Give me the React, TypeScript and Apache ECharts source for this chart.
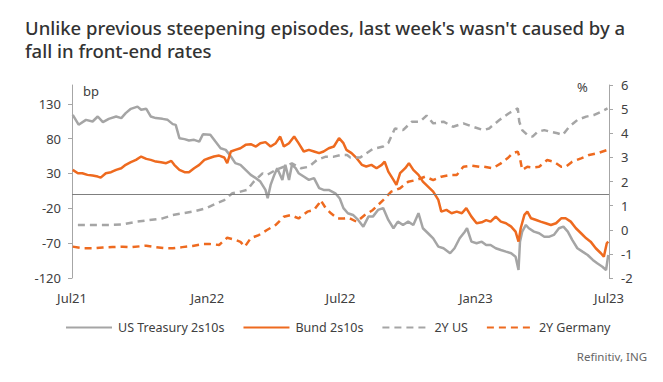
import React, { useEffect, useRef } from "react";
import * as echarts from "echarts";

const TITLE = "Unlike previous steepening episodes, last week's wasn't caused by a\nfall in front-end rates";
const SOURCE = "Refinitiv, ING";
const SERIES_NAMES = ["US Treasury 2s10s", "Bund 2s10s", "2Y US", "2Y Germany"];
const LEFT_TICKS = [-120, -70, -20, 30, 80, 130];
const X_TICKS = ["2021-07-01", "2022-01-01", "2022-07-01", "2023-01-01", "2023-07-01"];
const MONTHS = ["Jan", "Feb", "Mar", "Apr", "May", "Jun", "Jul", "Aug", "Sep", "Oct", "Nov", "Dec"];

// bp, left axis
const us2s10s: [string, number][] = [
  ["2021-07-02", 114], ["2021-07-10", 100], ["2021-07-20", 107], ["2021-07-29", 104.6],
  ["2021-08-05", 111.8], ["2021-08-12", 103.7], ["2021-08-20", 108.4], ["2021-08-30", 111.8],
  ["2021-09-06", 109.5], ["2021-09-12", 116.6], ["2021-09-19", 122.8], ["2021-09-28", 126],
  ["2021-10-03", 121.4], ["2021-10-10", 122.8], ["2021-10-16", 111.8], ["2021-10-23", 109.5],
  ["2021-11-01", 108.4], ["2021-11-08", 107], ["2021-11-15", 100.8], ["2021-11-19", 99.8],
  ["2021-11-24", 80.7], ["2021-12-01", 79.3], ["2021-12-07", 77.3], ["2021-12-14", 78.3],
  ["2021-12-21", 75.8], ["2021-12-26", 86.4], ["2022-01-05", 85.5], ["2022-01-12", 75.8],
  ["2022-01-19", 66.3], ["2022-01-26", 63.9], ["2022-02-02", 54.3], ["2022-02-08", 44.8],
  ["2022-02-15", 42.4], ["2022-02-22", 35.2], ["2022-03-01", 28], ["2022-03-08", 23.3],
  ["2022-03-14", 18.4], ["2022-03-21", 6.4], ["2022-03-24", -5.4], ["2022-03-28", 13.6],
  ["2022-04-02", 28], ["2022-04-06", 37.6], ["2022-04-13", 20.8], ["2022-04-17", 42.4],
  ["2022-04-22", 20.8], ["2022-04-26", 42.4], ["2022-05-01", 37.6], ["2022-05-05", 30.4],
  ["2022-05-12", 25.6], ["2022-05-19", 20.8], ["2022-05-26", 23.3], ["2022-06-02", 8.9],
  ["2022-06-08", 6.4], ["2022-06-15", 6.4], ["2022-06-24", 1.6], ["2022-06-30", -6],
  ["2022-07-05", -19.7], ["2022-07-11", -27], ["2022-07-18", -29.5], ["2022-07-25", -36.7],
  ["2022-08-01", -46.3], ["2022-08-08", -31.9], ["2022-08-14", -31.9], ["2022-08-21", -22.3],
  ["2022-08-28", -19.7], ["2022-09-04", -36.7], ["2022-09-11", -48.6], ["2022-09-17", -39.1],
  ["2022-09-24", -43.9], ["2022-10-01", -39.1], ["2022-10-08", -43.9], ["2022-10-15", -27],
  ["2022-10-21", -48.6], ["2022-10-28", -55.8], ["2022-11-04", -63], ["2022-11-11", -75],
  ["2022-11-18", -77.3], ["2022-11-27", -84.5], ["2022-12-03", -77.3], ["2022-12-10", -63],
  ["2022-12-17", -53.5], ["2022-12-20", -48.6], ["2022-12-26", -67.8], ["2023-01-02", -70.1],
  ["2023-01-09", -67.8], ["2023-01-15", -72.6], ["2023-01-21", -72.6], ["2023-01-28", -77.3],
  ["2023-02-04", -79.8], ["2023-02-11", -82.2], ["2023-02-18", -84.5], ["2023-02-24", -89.4],
  ["2023-02-28", -108.5], ["2023-03-02", -67.8], ["2023-03-05", -53.5], ["2023-03-10", -43.9],
  ["2023-03-14", -48.6], ["2023-03-21", -53.5], ["2023-03-28", -55.8], ["2023-04-04", -60.7],
  ["2023-04-11", -60.7], ["2023-04-17", -58.2], ["2023-04-24", -48.6], ["2023-04-30", -46.3],
  ["2023-05-06", -53.5], ["2023-05-12", -65.4], ["2023-05-19", -77.3], ["2023-05-26", -82.2],
  ["2023-06-02", -87], ["2023-06-09", -94.1], ["2023-06-15", -98.9], ["2023-06-22", -103.8],
  ["2023-06-27", -108.5], ["2023-06-30", -87],
];

// bp, left axis
const bund2s10s: [string, number][] = [
  ["2021-07-02", 35.2], ["2021-07-09", 30.4], ["2021-07-15", 30.4], ["2021-07-22", 28],
  ["2021-07-29", 27], ["2021-08-05", 25.6], ["2021-08-09", 24.1], ["2021-08-16", 30.4],
  ["2021-08-23", 31.8], ["2021-08-30", 35.2], ["2021-09-06", 37.6], ["2021-09-12", 42.4],
  ["2021-09-19", 46.2], ["2021-09-26", 49.5], ["2021-10-03", 54.3], ["2021-10-10", 51],
  ["2021-10-16", 49.5], ["2021-10-23", 47.1], ["2021-10-30", 46.2], ["2021-11-06", 44.8],
  ["2021-11-13", 48.1], ["2021-11-17", 42.4], ["2021-11-24", 35.2], ["2021-12-01", 31.8],
  ["2021-12-07", 31.8], ["2021-12-14", 37.6], ["2021-12-21", 42.4], ["2021-12-28", 49.5],
  ["2022-01-03", 51.9], ["2022-01-10", 54.3], ["2022-01-17", 55.7], ["2022-01-24", 52.9],
  ["2022-01-28", 44.8], ["2022-02-02", 61.6], ["2022-02-08", 63.9], ["2022-02-15", 66.3],
  ["2022-02-22", 71.1], ["2022-03-01", 72.1], ["2022-03-08", 68.7], ["2022-03-14", 73.5],
  ["2022-03-21", 75], ["2022-03-28", 68.7], ["2022-04-04", 73.5], ["2022-04-10", 83],
  ["2022-04-15", 68.7], ["2022-04-22", 73.5], ["2022-04-29", 83], ["2022-05-05", 73.5],
  ["2022-05-12", 61.6], ["2022-05-19", 63.9], ["2022-05-26", 61.6], ["2022-06-02", 59.2],
  ["2022-06-08", 61.6], ["2022-06-15", 66.3], ["2022-06-22", 68.7], ["2022-06-29", 80.7],
  ["2022-07-05", 73.5], ["2022-07-09", 63.9], ["2022-07-16", 59.2], ["2022-07-23", 51.9],
  ["2022-07-30", 42.4], ["2022-08-05", 40], ["2022-08-12", 42.4], ["2022-08-19", 37.6],
  ["2022-08-26", 42.4], ["2022-08-30", 47.1], ["2022-09-04", 32.7], ["2022-09-11", 20.8],
  ["2022-09-15", 13.6], ["2022-09-20", 30.4], ["2022-09-27", 37.6], ["2022-10-02", 44.8],
  ["2022-10-08", 35.2], ["2022-10-15", 28], ["2022-10-21", 18.4], ["2022-10-28", 11.2],
  ["2022-11-04", 4], ["2022-11-11", -8], ["2022-11-15", -24.7], ["2022-11-22", -22.3],
  ["2022-11-29", -27], ["2022-12-06", -24.7], ["2022-12-13", -27], ["2022-12-19", -19.7],
  ["2022-12-26", -31.9], ["2023-01-02", -41.4], ["2023-01-09", -40], ["2023-01-15", -37],
  ["2023-01-21", -39.1], ["2023-01-28", -31.9], ["2023-02-04", -39.1], ["2023-02-11", -41.4],
  ["2023-02-18", -46.3], ["2023-02-24", -53.5], ["2023-02-28", -67.8], ["2023-03-03", -48.6],
  ["2023-03-08", -29.5], ["2023-03-12", -24.7], ["2023-03-17", -34.3], ["2023-03-24", -36.7],
  ["2023-03-30", -39.1], ["2023-04-06", -41.4], ["2023-04-13", -43.9], ["2023-04-20", -41.4],
  ["2023-04-27", -34.3], ["2023-05-03", -34.3], ["2023-05-10", -39.1], ["2023-05-17", -48.6],
  ["2023-05-24", -55.8], ["2023-05-31", -63], ["2023-06-06", -67.8], ["2023-06-13", -77.3],
  ["2023-06-20", -84.5], ["2023-06-24", -89.4], ["2023-06-28", -70.1], ["2023-06-30", -67.8],
];

// %, right axis
const us2y: [string, number][] = [
  ["2021-07-09", 0.2], ["2021-07-29", 0.2], ["2021-08-21", 0.2], ["2021-09-08", 0.22],
  ["2021-09-26", 0.33], ["2021-10-14", 0.4], ["2021-11-01", 0.47], ["2021-11-15", 0.61],
  ["2021-11-28", 0.68], ["2021-12-12", 0.75], ["2021-12-30", 0.89], ["2022-01-14", 1.1],
  ["2022-01-24", 1.23], ["2022-02-04", 1.51], ["2022-02-15", 1.58], ["2022-02-24", 1.65],
  ["2022-03-05", 1.99], ["2022-03-17", 2.34], ["2022-03-23", 2.27], ["2022-04-04", 2.48],
  ["2022-04-15", 2.61], ["2022-04-26", 2.75], ["2022-05-08", 2.55], ["2022-05-19", 2.61],
  ["2022-05-30", 2.89], ["2022-06-11", 3.03], ["2022-06-22", 3.03], ["2022-07-01", 3.1],
  ["2022-07-10", 3.1], ["2022-07-14", 3.0], ["2022-07-28", 3.0], ["2022-08-14", 3.35],
  ["2022-08-28", 3.45], ["2022-09-04", 3.6], ["2022-09-13", 4.2], ["2022-09-24", 4.13],
  ["2022-10-06", 4.48], ["2022-10-17", 4.48], ["2022-10-26", 4.73], ["2022-11-04", 4.41],
  ["2022-11-18", 4.48], ["2022-12-01", 4.27], ["2022-12-15", 4.41], ["2022-12-28", 4.27],
  ["2023-01-11", 4.13], ["2023-01-19", 4.2], ["2023-02-02", 4.55], ["2023-02-15", 4.83],
  ["2023-02-27", 5.03], ["2023-03-01", 4.48], ["2023-03-05", 4.13], ["2023-03-12", 3.93],
  ["2023-03-19", 3.86], ["2023-03-26", 4.06], ["2023-04-04", 4.13], ["2023-04-13", 4.06],
  ["2023-04-22", 4.0], ["2023-04-29", 3.93], ["2023-05-08", 4.27], ["2023-05-19", 4.55],
  ["2023-05-31", 4.69], ["2023-06-11", 4.76], ["2023-06-20", 4.89], ["2023-06-29", 5.03],
];

// %, right axis
const germany2y: [string, number][] = [
  ["2021-07-02", -0.7], ["2021-07-16", -0.77], ["2021-07-29", -0.77], ["2021-08-12", -0.74],
  ["2021-08-25", -0.72], ["2021-09-08", -0.7], ["2021-09-21", -0.72], ["2021-10-10", -0.66],
  ["2021-10-23", -0.72], ["2021-11-06", -0.77], ["2021-11-15", -0.77], ["2021-11-28", -0.72],
  ["2021-12-12", -0.67], ["2021-12-26", -0.59], ["2022-01-04", -0.59], ["2022-01-17", -0.63],
  ["2022-01-28", -0.33], ["2022-02-08", -0.42], ["2022-02-15", -0.5], ["2022-02-21", -0.7],
  ["2022-03-01", -0.35], ["2022-03-12", -0.22], ["2022-03-23", -0.01], ["2022-04-04", 0.2],
  ["2022-04-15", 0.54], ["2022-04-24", 0.61], ["2022-05-05", 0.47], ["2022-05-17", 0.75],
  ["2022-05-26", 0.82], ["2022-06-02", 1.1], ["2022-06-04", 1.23], ["2022-06-11", 0.89],
  ["2022-06-18", 0.68], ["2022-06-27", 0.47], ["2022-07-06", 0.47], ["2022-07-12", 0.5],
  ["2022-07-23", 0.33], ["2022-08-03", 0.61], ["2022-08-14", 0.82], ["2022-08-28", 1.23],
  ["2022-09-08", 1.58], ["2022-09-20", 1.72], ["2022-10-01", 1.99], ["2022-10-12", 2.06],
  ["2022-10-24", 2.2], ["2022-11-04", 2.06], ["2022-11-15", 2.2], ["2022-11-27", 2.27],
  ["2022-12-06", 2.27], ["2022-12-15", 2.61], ["2022-12-26", 2.66], ["2023-01-06", 2.61],
  ["2023-01-12", 2.61], ["2023-01-24", 2.55], ["2023-02-04", 2.75], ["2023-02-13", 2.96],
  ["2023-02-20", 3.17], ["2023-02-27", 3.24], ["2023-03-02", 2.96], ["2023-03-05", 2.48],
  ["2023-03-12", 2.61], ["2023-03-19", 2.58], ["2023-03-28", 2.61], ["2023-04-08", 2.89],
  ["2023-04-17", 2.82], ["2023-04-27", 2.61], ["2023-05-03", 2.61], ["2023-05-12", 2.82],
  ["2023-05-24", 2.96], ["2023-06-04", 3.1], ["2023-06-15", 3.17], ["2023-06-29", 3.31],
];

const GREY = "#A5A5A5";
const ORANGE = "#EE6A1F";
const FONT = "'Noto Sans', sans-serif";

function ts(d: string): number {
  const [y, m, day] = d.split("-").map(Number);
  return Date.UTC(y, m - 1, day);
}

function toPoints(rows: [string, number][]): [number, number][] {
  return rows.map(([d, v]) => [ts(d), v]);
}

export default function App() {
  const ref = useRef<HTMLDivElement>(null);

  useEffect(() => {
    document.body.style.margin = "0";
    if (!ref.current) return;
    const chart = echarts.init(ref.current, undefined, { renderer: "svg" });
    const xTickValues = X_TICKS.map(ts);
    chart.setOption({
      animation: false,
      backgroundColor: "#ffffff",
      textStyle: { fontFamily: FONT },
      title: {
        text: TITLE,
        left: 20,
        top: 11,
        textStyle: { fontFamily: FONT, fontSize: 18.5, fontWeight: 500, color: "#333333", lineHeight: 23 },
      },
      graphic: [
        { type: "text", left: 83, top: 84, style: { text: "bp", fontFamily: FONT, fontSize: 13, fill: "#404040" } },
        { type: "text", left: 577, top: 80, style: { text: "%", fontFamily: FONT, fontSize: 13, fill: "#404040" } },
        { type: "text", right: 16, top: 350, style: { text: SOURCE, fontFamily: FONT, fontSize: 11.5, fill: "#666666" } },
      ],
      legend: {
        left: 60,
        top: 316,
        itemWidth: 46,
        itemHeight: 14,
        itemGap: 18,
        itemStyle: { opacity: 0 },
        textStyle: { fontFamily: FONT, fontSize: 12.5, color: "#404040", padding: [0, 0, 0, 1] },
        data: SERIES_NAMES,
      },
      grid: { left: 72, right: 54, top: 85, bottom: 104, containLabel: false },
      xAxis: {
        type: "value",
        min: ts("2021-07-01"),
        max: ts("2023-07-01"),
        axisLine: { show: false },
        axisTick: { show: false },
        splitLine: { show: false },
        axisLabel: {
          customValues: xTickValues,
          margin: 13,
          fontFamily: FONT,
          fontSize: 13,
          color: "#404040",
          formatter: (v: number) => {
            const d = new Date(v);
            return MONTHS[d.getUTCMonth()] + String(d.getUTCFullYear()).slice(2);
          },
        },
      },
      yAxis: [
        {
          type: "value",
          min: -120,
          max: 157,
          position: "left",
          axisLine: { show: true, lineStyle: { color: "#A6A6A6", width: 1 } },
          axisTick: { show: true, length: 4, customValues: LEFT_TICKS, lineStyle: { color: "#A6A6A6" } },
          splitLine: { show: false },
          axisLabel: { customValues: LEFT_TICKS, margin: 11, fontFamily: FONT, fontSize: 13, color: "#404040" },
        },
        {
          type: "value",
          min: -2,
          max: 6,
          interval: 1,
          position: "right",
          axisLine: { show: true, lineStyle: { color: "#A6A6A6", width: 1 } },
          axisTick: { show: true, length: 4, lineStyle: { color: "#A6A6A6" } },
          splitLine: { show: false },
          axisLabel: { margin: 12, fontFamily: FONT, fontSize: 13, color: "#404040" },
        },
      ],
      series: [
        {
          name: SERIES_NAMES[0],
          type: "line",
          yAxisIndex: 0,
          data: toPoints(us2s10s),
          symbol: "none",
          color: GREY,
          lineStyle: { color: GREY, width: 2.5 },
          markLine: {
            silent: true,
            symbol: "none",
            label: { show: false },
            lineStyle: { color: "#7F7F7F", width: 1, type: "solid" },
            data: [{ yAxis: 0 }],
          },
        },
        {
          name: SERIES_NAMES[1],
          type: "line",
          yAxisIndex: 0,
          data: toPoints(bund2s10s),
          symbol: "none",
          color: ORANGE,
          lineStyle: { color: ORANGE, width: 2.5 },
        },
        {
          name: SERIES_NAMES[2],
          type: "line",
          yAxisIndex: 1,
          data: toPoints(us2y),
          symbol: "none",
          color: GREY,
          lineStyle: { color: GREY, width: 2.5, type: [7, 5] },
        },
        {
          name: SERIES_NAMES[3],
          type: "line",
          yAxisIndex: 1,
          data: toPoints(germany2y),
          symbol: "none",
          color: ORANGE,
          lineStyle: { color: ORANGE, width: 2.5, type: [7, 5] },
        },
      ],
    });
    return () => chart.dispose();
  }, []);

  return (
    <div
      ref={ref}
      style={{ position: "absolute", left: 0, top: 0, width: 663, height: 382, background: "#fff" }}
    />
  );
}
